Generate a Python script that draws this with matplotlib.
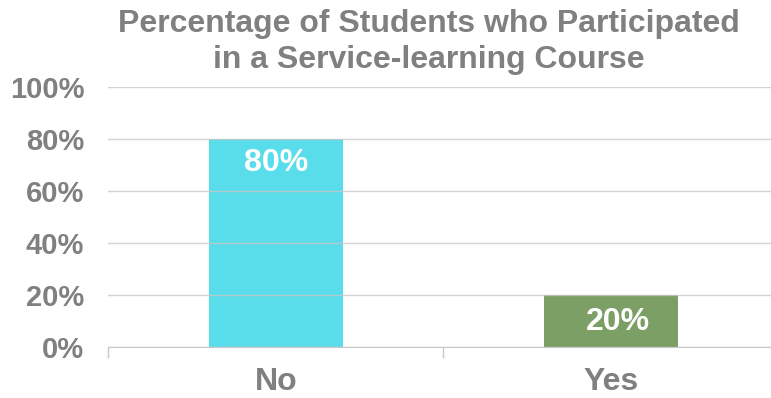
import matplotlib
matplotlib.use("Agg")
import matplotlib.pyplot as plt
from matplotlib.ticker import FixedLocator

categories = ["No", "Yes"]
values = [80, 20]
labels = ["80%", "20%"]
colors = ["#5ADDEA", "#7B9F65"]
yticks = [0, 20, 40, 60, 80, 100]
ytick_labels = ["0%", "20%", "40%", "60%", "80%", "100%"]
title = "Percentage of Students who Participated\nin a Service-learning Course"

plt.rcParams['font.family'] = ['Liberation Sans', 'DejaVu Sans']
gray = "#808080"

fig = plt.figure(figsize=(7.71, 3.98), dpi=100)
ax = fig.add_axes([0.1407, 0.128, 0.869, 0.653])
x = list(range(len(categories)))
bars = ax.bar(x, values, width=0.4, color=colors, zorder=2)
ax.set_xlim(-0.5, 1.5)
ax.set_ylim(0, 100)
ax.set_yticks(yticks)
ax.set_yticklabels(ytick_labels, fontsize=21, fontweight='bold', color=gray)
ax.yaxis.grid(True, color="#C8C8C8", linewidth=1, zorder=3, alpha=0.8)
ax.set_axisbelow(False)
for s in ["top", "right", "left"]:
    ax.spines[s].set_visible(False)
ax.spines["bottom"].set_color("#C8C8C8")
ax.spines["bottom"].set_zorder(3)
ax.tick_params(axis='y', length=0, pad=17.5)
ax.xaxis.set_major_locator(FixedLocator(x))
ax.set_xticklabels(categories, fontsize=23, fontweight='bold', color=gray)
ax.tick_params(axis='x', which='major', length=0, pad=14)
ax.xaxis.set_minor_locator(FixedLocator([-0.5, 0.5, 1.5]))
ax.tick_params(axis='x', which='minor', length=8, color="#C8C8C8", width=1)

for i, (b, lab) in enumerate(zip(bars, labels)):
    h = b.get_height()
    off = 9 if h > 50 else 10.5
    dx = 0 if i == 0 else 0.02
    ax.text(b.get_x() + b.get_width() / 2 + dx, h - off, lab, ha='center', va='center',
            fontsize=23, fontweight='bold', color='white', zorder=4)

fig.text(0.556, 0.894, title, ha='center', va='center', fontsize=23,
         fontweight='bold', color=gray, linespacing=1.27)
fig.savefig("out.png", dpi=100)
